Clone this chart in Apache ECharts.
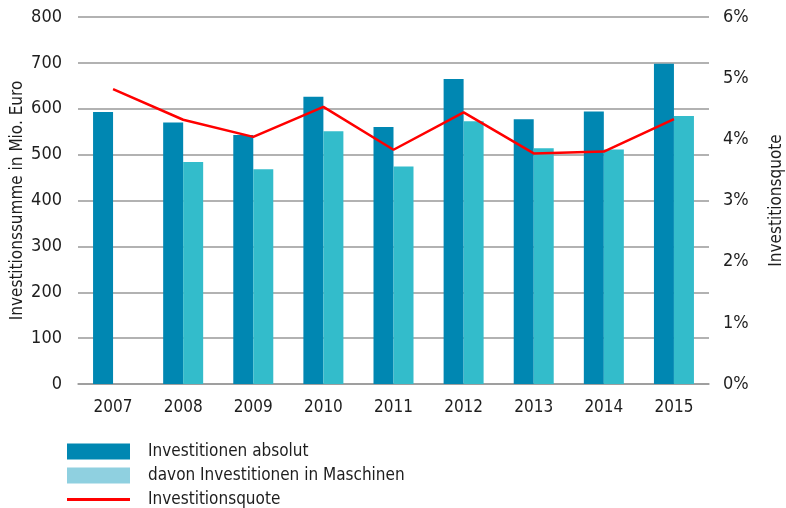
<!DOCTYPE html>
<html>
<head>
<meta charset="utf-8">
<script src="https://cdn.jsdelivr.net/npm/echarts@6/dist/echarts.min.js"></script>
<style>
  html, body { margin: 0; padding: 0; background: #fff; }
  #chart { width: 786px; height: 508px; }
</style>
</head>
<body>
<div id="chart"></div>
<script>
var years = ["2007", "2008", "2009", "2010", "2011", "2012", "2013", "2014", "2015"];
var absolut = [593, 570, 543, 626, 560, 665, 577, 594, 698];
var maschinen = [null, 484, 468, 551, 474, 573, 514, 511, 584];
var quote = [4.82, 4.32, 4.04, 4.53, 3.83, 4.44, 3.77, 3.80, 4.33];

var font = "'DejaVu Sans Condensed', 'DejaVu Sans', sans-serif";
var txt = "#1e1e1e";

// one legend per row so each can have its own icon height
function legendRow(name, top, h, color) {
  return {
    orient: "vertical",
    left: 62,
    top: top,
    padding: 5,
    itemWidth: 63,
    itemHeight: h,
    icon: "rect",
    data: [{ name: name, itemStyle: { color: color } }],
    textStyle: { fontFamily: font, fontSize: 17, color: txt, padding: [0, 0, 0, 13] }
  };
}

var myChart = echarts.init(document.getElementById("chart"));
var option = {
  animation: false,
  textStyle: { fontFamily: font },
  grid: { left: 78, right: 77, top: 17, bottom: 124, outerBoundsMode: "none", containLabel: false },
  legend: [
    legendRow("Investitionen absolut", 438, 16, "#0087b2"),
    legendRow("davon Investitionen in Maschinen", 462, 16, "#8fd0e0"),
    legendRow("Investitionsquote", 486, 3, "#ff0000")
  ],
  xAxis: {
    type: "category",
    data: years,
    axisLine: { lineStyle: { color: "#999", width: 1.5 } },
    axisTick: { show: false },
    axisLabel: { color: txt, fontSize: 17, margin: 15, fontFamily: font }
  },
  yAxis: [
    {
      type: "value",
      min: 0,
      max: 800,
      interval: 100,
      name: "Investitionssumme in Mio. Euro",
      nameLocation: "middle",
      nameGap: 52,
      nameMoveOverlap: false,
      nameTextStyle: { color: txt, fontSize: 17, fontFamily: font },
      axisLine: { show: false },
      axisTick: { show: false },
      axisLabel: { color: txt, fontSize: 18, margin: 16, fontFamily: font },
      splitLine: { lineStyle: { color: "#999", width: 1.5 } }
    },
    {
      type: "value",
      min: 0,
      max: 6,
      interval: 1,
      name: "Investitionsquote",
      nameLocation: "middle",
      nameGap: 59,
      nameRotate: 90,
      nameMoveOverlap: false,
      nameTextStyle: { color: txt, fontSize: 17, fontFamily: font },
      axisLine: { show: false },
      axisTick: { show: false },
      axisLabel: { color: txt, fontSize: 18, margin: 14, fontFamily: font, formatter: "{value}%" },
      splitLine: { show: false }
    }
  ],
  series: [
    {
      name: "Investitionen absolut",
      type: "bar",
      data: absolut,
      barWidth: 20,
      barGap: "0%",
      itemStyle: { color: "#0087b2" }
    },
    {
      name: "davon Investitionen in Maschinen",
      type: "bar",
      data: maschinen,
      barWidth: 20,
      barGap: "0%",
      itemStyle: { color: "#33bccb" }
    },
    {
      name: "Investitionsquote",
      type: "line",
      yAxisIndex: 1,
      data: quote,
      symbol: "none",
      lineStyle: { color: "#ff0000", width: 2.5 },
      itemStyle: { color: "#ff0000" }
    }
  ]
};
myChart.setOption(option);
</script>
</body>
</html>
